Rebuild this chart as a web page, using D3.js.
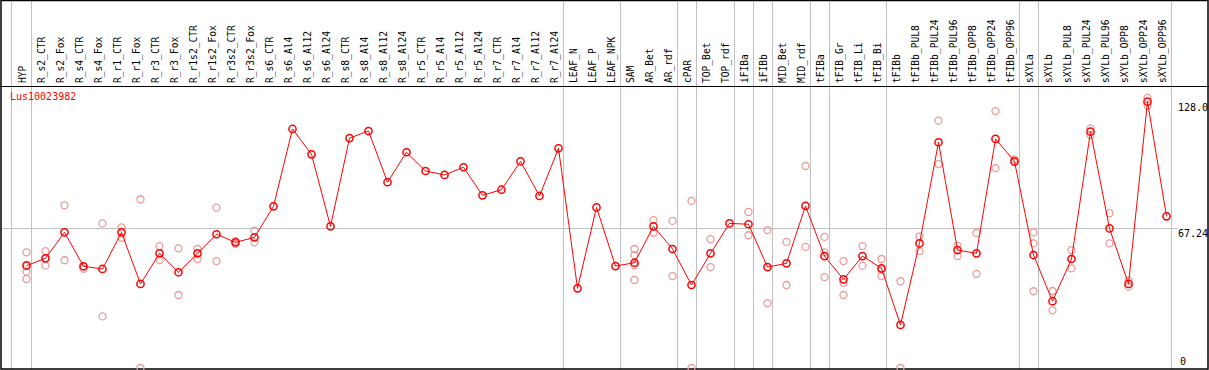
<!DOCTYPE html>
<html>
<head>
<meta charset="utf-8">
<script src="https://cdn.jsdelivr.net/npm/d3@7"></script>
<style>
  body { margin: 0; background: #fff; }
  svg { display: block; }
  text { font-family: "DejaVu Sans Mono", monospace; }
</style>
</head>
<body>
<div id="chart"></div>
<script>
/* Expression profile — Lus10023982 */

const GENE = "Lus10023982";

const SAMPLES = [
  "HYP", "R_s2_CTR", "R_s2_Fox", "R_s4_CTR", "R_s4_Fox", "R_r1_CTR", "R_r1_Fox",
  "R_r3_CTR", "R_r3_Fox", "R_r1s2_CTR", "R_r1s2_Fox", "R_r3s2_CTR", "R_r3s2_Fox",
  "R_s6_CTR", "R_s6_Al4", "R_s6_Al12", "R_s6_Al24", "R_s8_CTR", "R_s8_Al4", "R_s8_Al12",
  "R_s8_Al24", "R_r5_CTR", "R_r5_Al4", "R_r5_Al12", "R_r5_Al24", "R_r7_CTR", "R_r7_Al4",
  "R_r7_Al12", "R_r7_Al24", "LEAF_N", "LEAF_P", "LEAF_NPK", "SAM", "AR_Bet", "AR_rdf",
  "cPAR", "TOP_Bet", "TOP_rdf", "iFIBa", "iFIBb", "MID_Bet", "MID_rdf", "tFIBa",
  "tFIB_Gr", "tFIB_Li", "tFIB_Bi", "tFIBb", "tFIBb_PUL8", "tFIBb_PUL24", "tFIBb_PUL96",
  "tFIBb_OPP8", "tFIBb_OPP24", "tFIBb_OPP96", "sXYLa", "sXYLb", "sXYLb_PUL8",
  "sXYLb_PUL24", "sXYLb_PUL96", "sXYLb_OPP8", "sXYLb_OPP24", "sXYLb_OPP96",
];

// mean expression per sample
const MEANS = [
  49.2, 52.7, 65.2, 48.9, 47.6, 65.2, 40.4,
  55.1, 46.0, 55.1, 64.3, 60.4, 62.8,
  77.7, 114.9, 102.7, 68.1, 110.5, 113.9, 89.3,
  103.7, 94.7, 92.8, 96.5, 83.0, 85.7, 99.3,
  82.7, 105.6, 38.3, 77.2, 49.0, 50.6, 68.1, 57.2,
  39.9, 55.1, 69.5, 69.1, 48.5, 50.3, 77.9, 53.8,
  42.6, 53.8, 47.9, 20.7, 59.9, 108.5, 56.7,
  55.1, 110.1, 99.3, 54.3, 32.1, 52.4,
  113.6, 67.1, 40.4, 128.0, 72.9,
];

// individual replicates per sample (empty where only one sample)
const REPLICATES = [
  [55.6, 49.6, 46.3, 42.8], [56.2, 52.7, 49.2], [78.2, 51.8], [48.7, 47.7], [69.5, 24.8], [67.6, 62.6], [81.1, 0],
  [58.6, 51.9], [57.5, 35.1], [57.3, 52.4], [77.1, 51.4], [61.0, 59.7], [66.0, 60.4],
  [], [], [], [], [], [], [],
  [], [], [], [], [], [], [],
  [], [], [], [], [], [57.2, 54.3, 49.5, 42.3], [71.1, 65.0], [70.7, 44.2],
  [80.3, 0], [61.9, 48.5], [], [75.0, 63.8], [66.3, 31.1], [60.6, 39.9], [97.1, 58.2], [63.0, 55.6, 43.7],
  [51.4, 41.0, 35.1], [58.6, 49.2], [52.4, 47.1, 44.2], [41.7, 0], [63.3, 56.2], [118.9, 98.0], [58.8, 53.8],
  [64.9, 45.2], [123.5, 96.1], [100.3, 98.9], [65.2, 59.9, 36.9], [37.0, 27.7], [56.7, 47.9],
  [115.2, 112.0], [74.4, 59.9], [42.0, 39.1], [129.8, 126.2], [],
];

// group boundaries (a separator follows each of these samples)
const GROUP_ENDS = [
  "HYP", "R_r7_Al24", "LEAF_NPK", "AR_rdf", "cPAR", "TOP_rdf", "iFIBa", "iFIBb",
  "MID_rdf", "tFIBa", "tFIB_Bi", "tFIBb_OPP96", "sXYLa", "sXYLb_OPP96",
];

const AXIS_TICKS = [128.0, 67.24, 0];
const MID_VALUE = 67.24;

const W = 1209, H = 370;
const HEADER_H = 86;

const svg = d3.select("#chart").append("svg")
  .attr("width", W)
  .attr("height", H);

const x = d3.scalePoint()
  .domain(SAMPLES)
  .range([26.5, 1166.5]);

const y = d3.scaleLinear()
  .domain([0, 128])
  .range([368, 101.7]);

// ── Grid ──────────────────────────────────────────────────────────────────────

svg.append("line")
  .attr("x1", 1).attr("x2", 1177.5)
  .attr("y1", Math.round(y(MID_VALUE)) + 0.5)
  .attr("y2", Math.round(y(MID_VALUE)) + 0.5)
  .attr("stroke", "#c0c0c0");

const seps = [x(SAMPLES[0]) - 16].concat(GROUP_ENDS.map(s => x(s) + 4));
svg.selectAll(".sep")
  .data(seps)
  .join("line")
  .attr("class", "sep")
  .attr("x1", d => Math.round(d) + 0.5)
  .attr("x2", d => Math.round(d) + 0.5)
  .attr("y1", 0).attr("y2", H)
  .attr("stroke", "#c0c0c0");

// ── Frame ─────────────────────────────────────────────────────────────────────

svg.append("rect")
  .attr("x", 1).attr("y", 0.5)
  .attr("width", W - 2).attr("height", H - 1.5)
  .attr("fill", "none")
  .attr("stroke", "#000")
  .attr("stroke-width", 1.5);

svg.append("line")
  .attr("x1", 0).attr("x2", W)
  .attr("y1", HEADER_H + 0.5).attr("y2", HEADER_H + 0.5)
  .attr("stroke", "#000")
  .attr("stroke-width", 1.2);

// ── Header labels ─────────────────────────────────────────────────────────────

svg.selectAll(".sample-label")
  .data(SAMPLES)
  .join("text")
  .attr("class", "sample-label")
  .attr("transform", d => `translate(${x(d) - 1},${HEADER_H - 3}) rotate(-90)`)
  .attr("font-size", 9.6)
  .attr("fill", "#000")
  .text(d => d);

svg.append("text")
  .attr("x", 10)
  .attr("y", 100)
  .attr("font-size", 10)
  .attr("fill", "#f00")
  .text(GENE);

// ── Right value labels ────────────────────────────────────────────────────────

svg.selectAll(".val-label")
  .data(AXIS_TICKS)
  .join("text")
  .attr("class", "val-label")
  .attr("x", d => d === 0 ? 1180 : 1178)
  .attr("y", d => Math.min(y(d) + 9, 365))
  .attr("font-size", 10)
  .attr("fill", "#000")
  .text(d => d === 0 ? "0" : d3.format(d === 128 ? ".1f" : ".2f")(d));

// ── Replicates ────────────────────────────────────────────────────────────────

const reps = SAMPLES.flatMap((s, i) => REPLICATES[i].map(v => ({ s, v })));

svg.selectAll(".rep")
  .data(reps)
  .join("circle")
  .attr("class", "rep")
  .attr("cx", d => x(d.s))
  .attr("cy", d => y(d.v))
  .attr("r", 3.5)
  .attr("fill", "none")
  .attr("stroke", "#eb9a9a")
  .attr("stroke-width", 1.3);

// ── Mean line ─────────────────────────────────────────────────────────────────

const line = d3.line()
  .x((d, i) => x(SAMPLES[i]))
  .y(d => y(d));

svg.append("path")
  .datum(MEANS)
  .attr("d", line)
  .attr("fill", "none")
  .attr("stroke", "#f00")
  .attr("stroke-width", 1);

svg.selectAll(".mean")
  .data(MEANS)
  .join("circle")
  .attr("class", "mean")
  .attr("cx", (d, i) => x(SAMPLES[i]))
  .attr("cy", d => y(d))
  .attr("r", 3.6)
  .attr("fill", "none")
  .attr("stroke", "#f00")
  .attr("stroke-width", 1.5);
</script>
</body>
</html>
